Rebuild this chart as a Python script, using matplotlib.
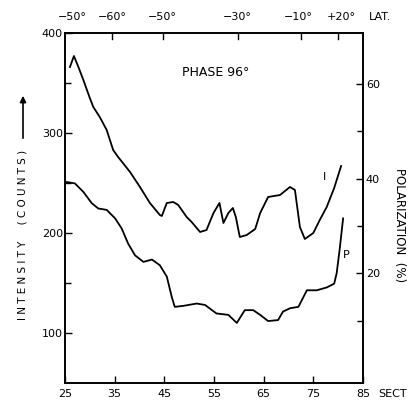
import matplotlib.pyplot as plt
from matplotlib.transforms import blended_transform_factory

# ------------------------------------------------------------
# Data
# ------------------------------------------------------------
# Intensity curve I (left axis, counts) vs sector
i_sect = [26.0, 26.8, 27.7, 28.7, 30.0, 30.7, 32.0, 33.4, 34.7, 35.7, 38.1,
          40.1, 42.1, 44.1, 44.5, 45.5, 46.8, 47.8, 49.5, 50.5, 52.2, 53.5,
          54.9, 56.1, 56.9, 57.9, 58.8, 59.4, 60.2, 61.6, 63.3, 64.3, 65.9,
          68.3, 70.3, 71.3, 72.3, 73.3, 75.0, 76.3, 77.7, 79.2, 80.6]
i_counts = [366, 377, 366, 353, 335, 326, 316, 303, 283, 276, 261,
            246, 230, 218, 217, 230, 231, 228, 216, 211, 201, 203,
            220, 230, 210, 220, 225, 216, 196, 198, 204, 220, 236,
            238, 246, 243, 206, 194, 200, 213, 226, 245, 267]

# Polarization curve P (right axis, %) vs sector
p_sect = [25.3, 27.0, 28.7, 30.4, 31.7, 33.4, 35.1, 36.4, 37.7, 39.1, 40.8,
          42.5, 44.1, 45.5, 46.5, 47.1, 48.8, 51.5, 53.2, 55.5, 57.9, 59.6,
          61.2, 62.9, 64.3, 65.9, 67.9, 68.9, 70.3, 72.0, 73.7, 75.7, 77.7,
          79.2, 79.7, 80.3, 81.0]
p_pct = [39.3, 39.0, 37.2, 34.8, 33.7, 33.4, 31.6, 29.5, 26.3, 23.8, 22.4,
         22.9, 21.7, 19.3, 15.0, 12.9, 13.1, 13.6, 13.3, 11.5, 11.2, 9.5,
         12.2, 12.2, 11.2, 9.9, 10.1, 11.9, 12.6, 12.9, 16.4, 16.4, 17.0,
         17.8, 20.0, 25.0, 31.6]

# Bottom axis
sect_ticks = [25, 35, 45, 55, 65, 75, 85]

# Top latitude scale
lat_labels = ["−50°", "−60°", "−50°", "−30°", "−10°", "+20°"]
lat_label_sect = [26.4, 34.5, 44.5, 59.6, 71.9, 80.6]
lat_tick_sect = [34.5, 44.7, 59.8, 72.5, 79.9]

# Left / right axis ticks
int_major = [100, 200, 300, 400]
int_minor = [150, 250, 350]
pol_major = [20, 40, 60]
pol_minor = [10, 30, 50]


def main() -> None:
    plt.rcParams["font.family"] = "DejaVu Sans"
    fig = plt.figure(figsize=(4.10, 4.01), dpi=100)
    ax = fig.add_axes([0.1585, 0.0449, 0.7268, 0.8728])
    ax2 = ax.twinx()

    ax.plot(i_sect, i_counts, color="black", lw=1.3)
    ax2.plot(p_sect, p_pct, color="black", lw=1.3)

    ax.set_xlim(25, 85)
    ax.set_ylim(50, 400)
    ax2.set_ylim(-3.2, 70.8)

    for spine in list(ax.spines.values()) + list(ax2.spines.values()):
        spine.set_linewidth(1.2)

    # bottom axis
    ax.set_xticks(sect_ticks)
    ax.set_xticklabels([str(s) for s in sect_ticks], fontsize=8)
    ax.tick_params(axis="x", direction="in", length=5, width=1, pad=4, top=False)

    # left axis
    ax.set_yticks(int_major)
    ax.set_yticks(int_minor, minor=True)
    ax.set_yticklabels([str(v) for v in int_major], fontsize=8)
    ax.tick_params(axis="y", which="major", direction="in", length=5, width=1, pad=1.5)
    ax.tick_params(axis="y", which="minor", direction="in", length=4, width=1)

    # right axis
    ax2.set_yticks(pol_major)
    ax2.set_yticks(pol_minor, minor=True)
    ax2.set_yticklabels([str(v) for v in pol_major], fontsize=8)
    ax2.tick_params(axis="y", which="major", direction="in", length=5, width=1, pad=2)
    ax2.tick_params(axis="y", which="minor", direction="in", length=4, width=1)

    # top latitude ticks and labels
    for s in lat_tick_sect:
        ax.plot([s, s], [400, 394], color="black", lw=1, clip_on=False)
    trans = blended_transform_factory(ax.transData, ax.transAxes)
    for lab, s in zip(lat_labels, lat_label_sect):
        ax.text(s, 1.046, lab, transform=trans, ha="center", va="center", fontsize=8)
    fig.text(380 / 410, 1 - 17 / 401, "LAT.", ha="center", va="center", fontsize=8)
    fig.text(393 / 410, 1 - 394 / 401, "SECT", ha="center", va="center", fontsize=8)

    # annotations
    ax.text(55.4, 361, "PHASE 96°", ha="center", va="center", fontsize=9)
    ax.text(77.3, 256, "I", ha="center", va="center", fontsize=8)
    ax.text(81.6, 178, "P", ha="center", va="center", fontsize=8)

    # axis titles (lettering in the original is widely spaced)
    fig.text(23 / 410, 1 - 235 / 401, "I N T E N S I T Y     ( C O U N T S )",
             rotation=90, ha="center", va="center", fontsize=7.5)
    ax.annotate("", xy=(23 / 410, 1 - 93 / 401), xytext=(23 / 410, 1 - 141 / 401),
                xycoords="figure fraction", textcoords="figure fraction",
                arrowprops=dict(arrowstyle="-|>", lw=1.2, color="black",
                                mutation_scale=9))
    fig.text(400 / 410, 1 - 225 / 401, "POLARIZATION  (%)", rotation=270,
             ha="center", va="center", fontsize=8.5)

    fig.savefig("out.png", dpi=100)
    plt.close(fig)


if __name__ == "__main__":
    main()
